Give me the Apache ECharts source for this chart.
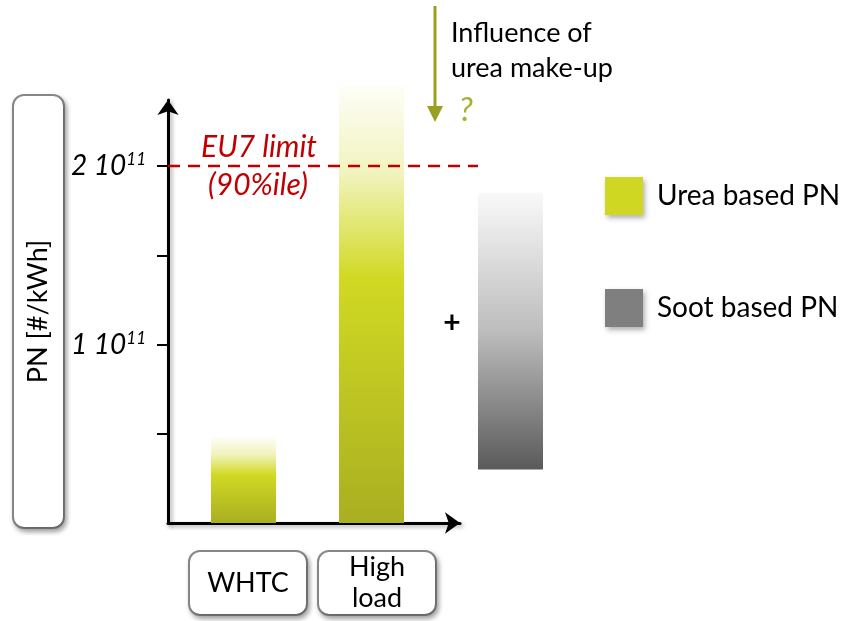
<!DOCTYPE html>
<html>
<head>
<meta charset="utf-8">
<title>PN contributions</title>
<script src="https://cdn.jsdelivr.net/npm/echarts@6/dist/echarts.min.js"></script>
<style>
  html, body { margin: 0; padding: 0; background: #ffffff; }
  #chart { width: 848px; height: 621px; }
</style>
</head>
<body>
<div id="chart"></div>
<script>
// ---- data ----
const CATEGORIES = ['WHTC', 'High load'];
const UREA_PN = [0.48e11, 2.45e11];          // urea based PN per test  [#/kWh]
const SOOT_PN_RANGE = [0.30e11, 1.85e11];    // soot based PN, low and high end
const EU7_LIMIT = 2e11;                      // EU7 limit (90%ile)
const Y_TICKS = [0.5e11, 1e11, 1.5e11, 2e11];
const Y_LABELS = [1e11, 2e11];
const Y_MAX = 2.37e11;

// ---- layout ----
const FONT = 'Lato, "Open Sans", sans-serif';
const PLOT_TOP = 100;
const PLOT_H = 423;
const AXIS_SHADOW = { shadowColor: 'rgba(0,0,0,0.35)', shadowBlur: 4, shadowOffsetX: 2, shadowOffsetY: 2 };
const BOX_SHADOW = { shadowColor: 'rgba(0,0,0,0.3)', shadowBlur: 5, shadowOffsetX: 2, shadowOffsetY: 3 };

function sharedY(extra) {
  return Object.assign({
    type: 'value', min: 0, max: Y_MAX, interval: 0.5e11,
    axisLine: { show: false }, axisTick: { show: false },
    axisLabel: { show: false }, splitLine: { show: false }
  }, extra || {});
}
function hiddenCat(gridIndex, data, extra) {
  return Object.assign({
    type: 'category', gridIndex: gridIndex, data: data,
    axisLine: { show: false }, axisTick: { show: false },
    axisLabel: { show: false }, splitLine: { show: false }
  }, extra || {});
}

const ureaGradient = new echarts.graphic.LinearGradient(0, 0, 0, 1, [
  { offset: 0, color: 'rgba(209,217,35,0.03)' },
  { offset: 0.2, color: 'rgba(209,217,35,0.3)' },
  { offset: 0.44, color: '#d1d923' },
  { offset: 1, color: '#a9af21' }
]);
const sootGradient = new echarts.graphic.LinearGradient(0, 0, 0, 1, [
  { offset: 0, color: '#f9f9f9' },
  { offset: 0.5, color: '#bdbdbd' },
  { offset: 1, color: '#5a5a5a' }
]);

function yLabel(v) {
  const mant = Math.round(v / 1e11);
  return '{b|' + mant + ' 10}{s|11}';
}
function catLabel(v) {
  const words = v.split(' ');
  if (words.length === 1) return '{one|' + v + '}';
  return words.map(w => '{two|' + w + '}').join('\n');
}

const chart = echarts.init(document.getElementById('chart'), null, { renderer: 'canvas' });

const option = {
  animation: false,
  backgroundColor: '#ffffff',
  textStyle: { fontFamily: FONT },
  grid: [
    // 0: main axes
    { left: 168, top: PLOT_TOP, width: 292, height: PLOT_H, containLabel: false },
    // 1: urea bars
    { left: 179.5, top: PLOT_TOP, width: 256, height: PLOT_H },
    // 2: soot bar
    { left: 478, top: PLOT_TOP, width: 65, height: PLOT_H },
    // 3: limit line
    { left: 168, top: PLOT_TOP, width: 310, height: PLOT_H },
    // 4: category label boxes
    { left: 183.5, top: PLOT_TOP, width: 258, height: PLOT_H }
  ],
  xAxis: [
    {
      type: 'value', gridIndex: 0, min: 0, max: 1,
      axisLine: { show: true, symbol: ['none', 'arrow'], symbolSize: [16, 15],
        lineStyle: Object.assign({ color: '#000', width: 3 }, AXIS_SHADOW) },
      axisTick: { show: false }, axisLabel: { show: false }, splitLine: { show: false }
    },
    hiddenCat(1, CATEGORIES),
    hiddenCat(2, ['Soot']),
    hiddenCat(3, ['', ''], { boundaryGap: false }),
    hiddenCat(4, CATEGORIES, {
      axisLabel: Object.assign({
        show: true, interval: 0, margin: 29,
        formatter: catLabel,
        width: 116, align: 'center',
        backgroundColor: '#ffffff',
        borderColor: '#8a8a8a', borderWidth: 2, borderRadius: 10,
        rich: {
          one: { fontFamily: FONT, fontSize: 27, lineHeight: 62, color: '#000' },
          two: { fontFamily: FONT, fontSize: 27, lineHeight: 31, color: '#000' }
        }
      }, BOX_SHADOW)
    })
  ],
  yAxis: [
    sharedY({
      gridIndex: 0,
      name: '{n|PN [#/kWh]}',
      nameLocation: 'middle',
      nameRotate: 90,
      nameGap: 105,
      nameTextStyle: {
        rich: {
          n: Object.assign({
            fontFamily: FONT, fontSize: 27, color: '#000',
            lineHeight: 49, height: 49, width: 431, align: 'center',
            backgroundColor: '#ffffff', borderColor: '#8a8a8a', borderWidth: 2, borderRadius: 10
          }, BOX_SHADOW)
        }
      },
      axisLine: { show: true, symbol: ['none', 'arrow'], symbolSize: [16, 15],
        lineStyle: Object.assign({ color: '#000', width: 3 }, AXIS_SHADOW) },
      axisTick: { show: true, length: 11, customValues: Y_TICKS,
        lineStyle: { color: '#000', width: 2 } },
      axisLabel: {
        show: true, customValues: Y_LABELS, margin: 22,
        formatter: yLabel,
        rich: {
          b: { fontFamily: FONT, fontSize: 28, fontStyle: 'italic', color: '#000', lineHeight: 30 },
          s: { fontFamily: FONT, fontSize: 17, fontStyle: 'italic', color: '#000', verticalAlign: 'top', lineHeight: 17 }
        }
      }
    }),
    sharedY({ gridIndex: 1 }),
    sharedY({ gridIndex: 2 }),
    sharedY({ gridIndex: 3 }),
    sharedY({ gridIndex: 4 })
  ],
  legend: {
    orient: 'vertical',
    left: 605, top: 177,
    padding: 0,
    itemWidth: 38, itemHeight: 38, itemGap: 74,
    icon: 'rect',
    selectedMode: false,
    textStyle: { fontFamily: FONT, fontSize: 28, color: '#000', padding: [0, 0, 0, 9] },
    data: [
      { name: 'Urea based PN', itemStyle: Object.assign({ color: '#d0d723' }, BOX_SHADOW) },
      { name: 'Soot based PN', itemStyle: Object.assign({ color: '#7f7f7f' }, BOX_SHADOW) }
    ]
  },
  series: [
    {
      name: 'Urea based PN', type: 'bar',
      xAxisIndex: 1, yAxisIndex: 1,
      data: UREA_PN, barWidth: 65, clip: false,
      itemStyle: { color: ureaGradient },
      z: 3
    },
    {
      name: 'soot-base', type: 'bar', stack: 'soot',
      xAxisIndex: 2, yAxisIndex: 2,
      data: [SOOT_PN_RANGE[0]], barWidth: '100%', silent: true,
      itemStyle: { color: 'rgba(0,0,0,0)' }
    },
    {
      name: 'Soot based PN', type: 'bar', stack: 'soot',
      xAxisIndex: 2, yAxisIndex: 2,
      data: [SOOT_PN_RANGE[1] - SOOT_PN_RANGE[0]], barWidth: '100%',
      itemStyle: { color: sootGradient }
    },
    {
      name: 'EU7 limit', type: 'line',
      xAxisIndex: 3, yAxisIndex: 3,
      data: [EU7_LIMIT, EU7_LIMIT],
      symbol: 'none', silent: true,
      lineStyle: { color: '#c00000', width: 2.5, type: [12, 8] },
      z: 4
    }
  ],
  graphic: [
    // urea make-up arrow
    { type: 'line', shape: { x1: 435, y1: 6, x2: 435, y2: 108 },
      style: { stroke: '#9a9f1f', lineWidth: 3 } },
    { type: 'polygon', shape: { points: [[427, 106], [443, 106], [435, 122]] },
      style: { fill: '#9a9f1f' } },
    { type: 'text', x: 451, y: 33,
      style: { text: 'Influence of', fontFamily: FONT, fontSize: 27, fill: '#000', verticalAlign: 'middle' } },
    { type: 'text', x: 451, y: 68,
      style: { text: 'urea make-up', fontFamily: FONT, fontSize: 27, fill: '#000', verticalAlign: 'middle' } },
    { type: 'text', x: 466, y: 110,
      style: { text: '?', fontFamily: FONT, fontSize: 33, fontStyle: 'italic', fill: '#a6b02a', align: 'center', verticalAlign: 'middle' } },
    // limit annotation
    { type: 'text', x: 259, y: 147,
      style: { text: 'EU7 limit', fontFamily: FONT, fontSize: 30, fontStyle: 'italic', fill: '#c00000', align: 'center', verticalAlign: 'middle' } },
    { type: 'text', x: 258, y: 185,
      style: { text: '(90%ile)', fontFamily: FONT, fontSize: 30, fontStyle: 'italic', fill: '#c00000', align: 'center', verticalAlign: 'middle' } },
    // plus sign
    { type: 'text', x: 452, y: 323,
      style: { text: '+', fontFamily: FONT, fontSize: 30, fontWeight: 'bold', fill: '#000', align: 'center', verticalAlign: 'middle' } }
  ]
};

chart.setOption(option);
</script>
</body>
</html>
